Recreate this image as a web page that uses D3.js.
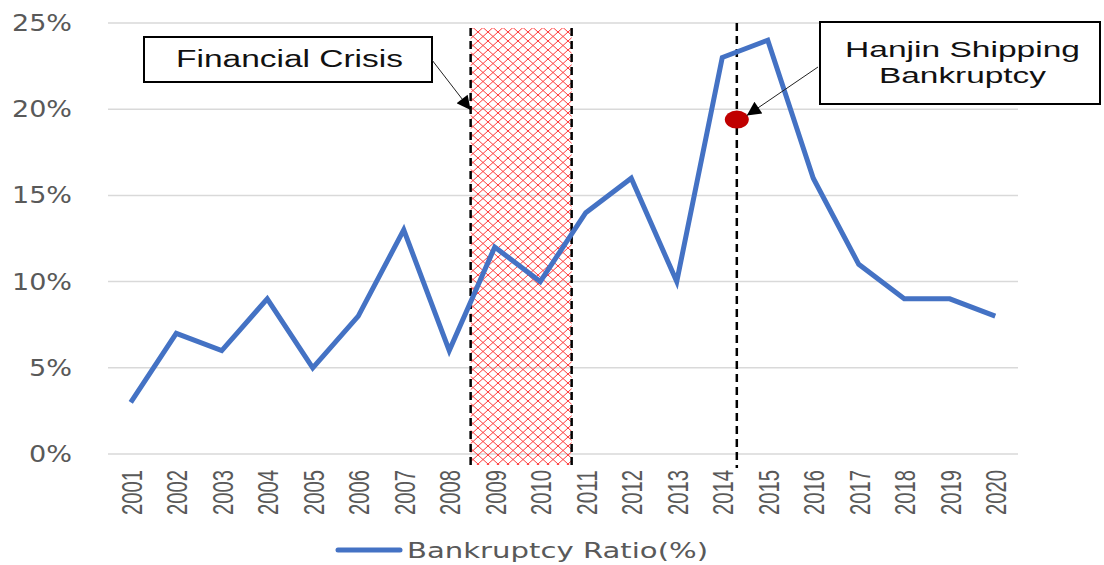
<!DOCTYPE html>
<html>
<head>
<meta charset="utf-8">
<script src="https://cdn.jsdelivr.net/npm/d3@7"></script>
<style>
body{margin:0;background:#fff;}
</style>
</head>
<body>
<div id="chart"></div>
<script>
var years=["2001","2002","2003","2004","2005","2006","2007","2008","2009","2010","2011","2012","2013","2014","2015","2016","2017","2018","2019","2020"];
var ratio=[3,7,6,9,5,8,13,6,12,10,14,16,10,23,24,16,11,9,9,8];
var yTicks=[0,5,10,15,20,25];
var crisisSpan=[7.47,9.69];    // index positions (in years) for the shaded band
var hanjinAt=13.32;            // index position of the Hanjin line
var hanjinDot=19.4;            // value of the red marker

var width=1104, height=565;
var margin={top:23, right:86, bottom:111, left:108};
var gwidth=width-margin.left-margin.right, gheight=height-margin.top-margin.bottom;

var svg=d3.select('#chart').append('svg')
    .attr('width', width)
    .attr('height', height);

var defs=svg.append('defs');
var pat=defs.append('pattern')
    .attr('id','hatch')
    .attr('patternUnits','userSpaceOnUse')
    .attr('width',10).attr('height',9);
pat.append('path').attr('d','M0,0 L10,9 M10,0 L0,9')
    .attr('stroke','#ff3b3b').attr('stroke-width',1).attr('fill','none');

var g=svg.append('g').attr('transform','translate('+margin.left+','+margin.top+')');

var x=d3.scaleBand().domain(years).range([0,gwidth]);
var y=d3.scaleLinear().domain([0,25]).range([gheight,0]);
var xi=function(i){ return x(years[0])+x.bandwidth()/2+i*x.step(); };

// gridlines
g.selectAll('.grid').data(yTicks).enter().append('line')
    .attr('x1',0).attr('x2',gwidth)
    .attr('y1',d=>y(d)).attr('y2',d=>y(d))
    .attr('stroke','#d9d9d9').attr('stroke-width',1.5);

// y labels (stretched wide like the original)
g.selectAll('.ylab').data(yTicks).enter().append('text')
    .attr('x',-36).attr('y',d=>y(d)+8)
    .attr('text-anchor','end')
    .attr('font-family','"DejaVu Sans", Verdana, sans-serif')
    .attr('font-size',23).attr('fill','#595959')
    .attr('textLength',d=>d>=10?60:43).attr('lengthAdjust','spacingAndGlyphs')
    .text(d=>d+'%');

// x labels (tall, condensed)
g.selectAll('.xlab').data(years).enter().append('text')
    .attr('transform',d=>'translate('+(x(d)+x.bandwidth()/2+11)+','+(gheight+16)+') rotate(-90)')
    .attr('text-anchor','end')
    .attr('font-family','"Liberation Sans", Arial, sans-serif')
    .attr('font-size',30).attr('fill','#595959')
    .attr('textLength',45).attr('lengthAdjust','spacingAndGlyphs')
    .text(d=>d);

// crisis band
var cx0=xi(crisisSpan[0]), cx1=xi(crisisSpan[1]);
g.append('rect')
    .attr('x',cx0).attr('y',5)
    .attr('width',cx1-cx0).attr('height',gheight+6)
    .attr('fill','url(#hatch)');
[cx0,cx1].forEach(function(v){
  g.append('line').attr('x1',v).attr('x2',v).attr('y1',5).attr('y2',gheight+11)
    .attr('stroke','#000').attr('stroke-width',2.5).attr('stroke-dasharray','8,5');
});

// hanjin line
var hx=xi(hanjinAt);
g.append('line').attr('x1',hx).attr('x2',hx).attr('y1',0).attr('y2',gheight+14)
    .attr('stroke','#000').attr('stroke-width',2.5).attr('stroke-dasharray','8,5');

// data line
var line=d3.line().x((d,i)=>x(years[i])+x.bandwidth()/2).y(d=>y(d));
g.append('path').datum(ratio)
    .attr('d',line)
    .attr('fill','none').attr('stroke','#4472c4').attr('stroke-width',5)
    .attr('stroke-linejoin','miter');

// red marker
g.append('ellipse').attr('cx',hx).attr('cy',y(hanjinDot))
    .attr('rx',12).attr('ry',9).attr('fill','#c00000');

// arrow marker
defs.append('marker').attr('id','arr')
    .attr('viewBox','0 0 10 10').attr('refX',10).attr('refY',5)
    .attr('markerWidth',18).attr('markerHeight',14).attr('orient','auto')
    .attr('markerUnits','userSpaceOnUse')
  .append('path').attr('d','M0,0 L10,5 L0,10 z').attr('fill','#000');

var boxFont='"Liberation Sans", Arial, sans-serif';

// Financial Crisis annotation
svg.append('rect').attr('x',144).attr('y',37).attr('width',288).attr('height',45)
    .attr('fill','#fff').attr('stroke','#000').attr('stroke-width',2);
svg.append('text').attr('x',176).attr('y',67)
    .attr('font-family',boxFont).attr('font-size',23)
    .attr('textLength',227).attr('lengthAdjust','spacingAndGlyphs')
    .attr('fill','#111').text('Financial Crisis');
svg.append('line').attr('x1',432).attr('y1',60).attr('x2',margin.left+cx0).attr('y2',110)
    .attr('stroke','#222').attr('stroke-width',1).attr('marker-end','url(#arr)');

// Hanjin annotation
svg.append('rect').attr('x',820).attr('y',22).attr('width',280).attr('height',82)
    .attr('fill','#fff').attr('stroke','#000').attr('stroke-width',2);
svg.append('text').attr('x',845).attr('y',57)
    .attr('font-family',boxFont).attr('font-size',22)
    .attr('textLength',235).attr('lengthAdjust','spacingAndGlyphs')
    .attr('fill','#111').text('Hanjin Shipping');
svg.append('text').attr('x',879).attr('y',83)
    .attr('font-family',boxFont).attr('font-size',22)
    .attr('textLength',167).attr('lengthAdjust','spacingAndGlyphs')
    .attr('fill','#111').text('Bankruptcy');
svg.append('line').attr('x1',818).attr('y1',67).attr('x2',margin.left+hx+10).attr('y2',margin.top+y(hanjinDot)-4)
    .attr('stroke','#222').attr('stroke-width',1).attr('marker-end','url(#arr)');

// legend
svg.append('line').attr('x1',338).attr('x2',400).attr('y1',550).attr('y2',550)
    .attr('stroke','#4472c4').attr('stroke-width',5).attr('stroke-linecap','round');
svg.append('text').attr('x',407).attr('y',558)
    .attr('font-family','"DejaVu Sans", Verdana, sans-serif').attr('font-size',22)
    .attr('textLength',301).attr('lengthAdjust','spacingAndGlyphs')
    .attr('fill','#595959').text('Bankruptcy Ratio(%)');
</script>
</body>
</html>
